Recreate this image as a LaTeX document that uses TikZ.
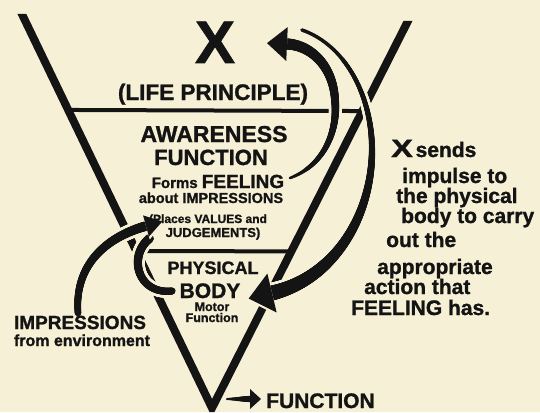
\documentclass[tikz,border=0pt]{standalone}
\usepackage{graphicx}
\usepackage{fontspec}
\setmainfont{Liberation Sans}[BoldFeatures={FakeBold=1.2}]
\usetikzlibrary{calc,decorations.markings}
\definecolor{paper}{HTML}{F6F0D6}
\definecolor{ink}{HTML}{141414}
\newcommand\fsz[1]{\fontsize{#1}{#1}\selectfont\bfseries}

% a stroke that swells from #1 to #2 (radius, pt); #3 = how the swelling grows,
% #4 = extra width (for the halo), #5 = colour
\tikzset{
  tapered/.style n args={5}{decoration={markings,
    mark=between positions 0 and 0.995 step 0.5pt with {%
      \pgfmathsetmacro\tapr{#4+#1+(#2-#1)*(\pgfkeysvalueof{/pgf/decoration/mark info/distance from start}/\pgfdecoratedpathlength+0.0001)^#3}%
      \fill[#5] (0,0) circle[radius=\tapr pt];}},
    decorate},
}
% head at the end #1 of a stroke whose last control point is #2: #3 long, #4 half wide
\newcommand\headtip[4]{%
  \fill[paper] ($(#1)!-#3pt-3pt!(#2)$) -- ($(#1)!#4pt+3pt!90:(#2)$) -- ($(#1)!#4pt+3pt!-90:(#2)$) -- cycle;
  \fill[ink] ($(#1)!-#3pt!(#2)$) -- ($(#1)!#4pt!90:(#2)$) -- ($(#1)!#4pt!-90:(#2)$) -- cycle;}

\begin{document}
\begin{tikzpicture}[x=1pt, y=-1pt,
  vline/.style={line width=8pt, color=ink, line join=miter},
  hline/.style={line width=4pt, color=ink},
  lbl/.style={inner sep=0pt, text=ink, anchor=base},
  rlbl/.style={inner sep=0pt, text=ink, anchor=base west},
  taperarrow/.style n args={3}{preaction={tapered={#1}{#2}{#3}{2.8}{paper}},
    postaction={tapered={#1}{#2}{#3}{0}{ink}}}]
\useasboundingbox (0,0) rectangle (540,412);
\fill[paper] (0,0) rectangle (540,412);

% the V (cut level at its tops) and its two floors
\coordinate (vL) at (19,8);
\coordinate (vR) at (411,15);
\coordinate (vB) at (212,408);
\begin{scope}
  \clip (0,14) -- (300,14) -- (300,21) -- (540,21) -- (540,412) -- (0,412) -- cycle;
  \draw[vline] (vL) -- (vB) -- (vR);
\end{scope}
\coordinate (l1a) at ($(vL)!0.2549!(vB)$);
\coordinate (l1b) at ($(vR)!0.2444!(vB)$);
\coordinate (l2a) at ($(vL)!0.6075!(vB)$);
\coordinate (l2b) at ($(vR)!0.6015!(vB)$);
\draw[hline] (l1a) -- (l1b);
\draw[hline] (l2a) -- (l2b);

% arrows
\coordinate (imS) at (302,30);
\coordinate (imC) at (335,278);
\coordinate (imE) at (272,293);
\path[taperarrow={1.8}{7.5}{1.8}] (imS) .. controls (345,45) and (372,95) .. (372,150)
  .. controls (372,215) and (imC) .. (imE);
\headtip{imE}{imC}{24}{20}
\coordinate (feS) at (290,178);
\coordinate (feC) at (310,45);
\coordinate (feE) at (287,44);
\path[taperarrow={1.3}{5.6}{0.8}] (feS) .. controls (325,165) and (338,130) .. (335,100)
  .. controls (333,65) and (feC) .. (feE);
\headtip{feE}{feC}{20}{17}
\coordinate (bdS) at (172,291);
\coordinate (bdE) at (150,238);
\path[taperarrow={3.6}{4.4}{1}] (bdS) .. controls (138,295) and (127,256) .. (bdE);
\coordinate (inS) at (78,313);
\coordinate (inC) at (110,236);
\coordinate (inE) at (146,226);
\path[taperarrow={3.3}{4.8}{1}] (inS) .. controls (74,262) and (inC) .. (inE);
\headtip{inE}{inC}{17}{11}
\coordinate (fnS) at (227,399);
\coordinate (fnE) at (250,399);
\path[taperarrow={1}{3.2}{1}] (fnS) -- (fnE);
\headtip{fnE}{fnS}{11}{10}

% inside the V
\node[lbl, font=\fsz{60}] (lifeX) at (215,63) {X};
\node[lbl, font=\fsz{22.5}] (lifeP) at (213,100) {(LIFE PRINCIPLE)};
\node[lbl, font=\fsz{23}] (awareA) at (214,142) {AWARENESS};
\node[lbl, font=\fsz{22}] (awareF) at (211,165) {FUNCTION};
\node[lbl] (forms) at (218,188) {\fsz{15}Forms \fsz{19}FEELING};
\node[lbl, font=\fsz{14.5}] (about) at (211,203) {about IMPRESSIONS};
\node[lbl, font=\fsz{12}] (places) at (208,223) {(Places VALUES and};
\node[lbl, font=\fsz{13}] (judge) at (213,237) {JUDGEMENTS)};
\node[lbl, font=\fsz{18}] (phys) at (213,274) {PHYSICAL};
\node[lbl, font=\fsz{21}] (body) at (210,298) {BODY};
\node[lbl, font=\fsz{12.5}] (motor) at (212,311) {Motor};
\node[lbl, font=\fsz{12.5}] (motorF) at (212,322) {Function};

% outside the V
\node[lbl, font=\fsz{19}] (impr) at (80,329) {IMPRESSIONS};
\node[lbl, font=\fsz{16}] (env) at (82,346) {from environment};
\node[rlbl, font=\fsz{21}] (funct) at (266,408) {FUNCTION};
\node[rlbl] (sendX) at (391,157) {{\fsz{25}\scalebox{1.3}[1]{X}} \fsz{21}sends};
\node[rlbl, font=\fsz{21}] (send1) at (402,183) {impulse to};
\node[rlbl, font=\fsz{21}] (send2) at (396,203) {the physical};
\node[rlbl, font=\fsz{21}] (send3) at (401,223) {body to carry};
\node[rlbl, font=\fsz{21}] (send4) at (386,247) {out the};
\node[rlbl, font=\fsz{21}] (send5) at (377,274) {appropriate};
\node[rlbl, font=\fsz{21}] (send6) at (364,294) {action that};
\node[rlbl, font=\fsz{21}] (send7) at (351,315) {FEELING has.};
\end{tikzpicture}
\end{document}
